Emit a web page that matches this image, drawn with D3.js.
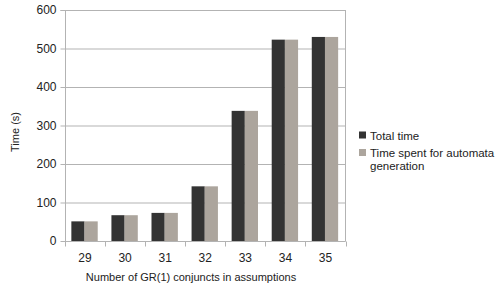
<!DOCTYPE html>
<html><head><meta charset="utf-8">
<script src="https://cdn.jsdelivr.net/npm/d3@7"></script>
<style>body{margin:0;background:#fff}svg{display:block;font-family:"Liberation Sans",Arial,sans-serif}</style>
</head><body><svg id="c" width="498" height="285"></svg>
<script>
const categories = ["29","30","31","32","33","34","35"];
const totalTime = [51,67,73,142,338,523,530];
const automataTime = [51,67,73,142,338,523,530];
const seriesNames = ["Total time","Time spent for automata generation"];
const yTicks = [0,100,200,300,400,500,600];
const colors = ["#333333","#aca59d"];

const svg = d3.select("#c");
const L=65,R=345.5,T=10,B=241;
const x = d3.scaleBand().domain(categories).range([L,R]).paddingInner(0).paddingOuter(0);
const y = d3.scaleLinear().domain([0,600]).range([B,T]);
const grid="#b3b3b3";

svg.append("g").selectAll("line").data(yTicks).join("line")
 .attr("x1",L).attr("x2",R).attr("y1",d=>y(d)+0.5).attr("y2",d=>y(d)+0.5)
 .attr("stroke",grid).attr("stroke-width",1);
svg.append("line").attr("x1",R).attr("x2",R).attr("y1",T).attr("y2",B).attr("stroke",grid);

const sub = d3.scaleBand().domain([0,1]).range([0,x.bandwidth()]).paddingOuter(0.52).paddingInner(0);
const data=[totalTime,automataTime];
data.forEach((vals,si)=>{
 svg.append("g").selectAll("rect").data(vals).join("rect")
  .attr("x",(d,i)=>x(categories[i])+sub(si)-0.5)
  .attr("width",sub.bandwidth())
  .attr("y",d=>y(d)).attr("height",d=>B-y(d))
  .attr("fill",colors[si]);
});

const yAxis = svg.append("g").attr("transform",`translate(${L+0.5},0)`)
 .call(d3.axisLeft(y).tickValues(yTicks).tickSize(5).tickPadding(4));
yAxis.select(".domain").attr("stroke",grid).attr("d",`M-5,${y(600)+0.5}H0V${B+0.5}`);
yAxis.selectAll(".tick line").attr("stroke",grid);
yAxis.selectAll("text").attr("font-size",12).attr("fill","#222").attr("font-family","Liberation Sans, Arial, sans-serif");

const xb = svg.append("g").attr("transform",`translate(0,${B+0.5})`);
xb.append("line").attr("x1",L).attr("x2",R).attr("stroke",grid);
xb.selectAll("line.t").data(categories.map(c=>x(c)).concat([R])).join("line").attr("class","t")
 .attr("x1",d=>Math.round(d)+0.5).attr("x2",d=>Math.round(d)+0.5).attr("y1",0).attr("y2",5).attr("stroke",grid);
xb.selectAll("text").data(categories).join("text")
 .attr("x",d=>x(d)+x.bandwidth()/2).attr("y",20).attr("text-anchor","middle")
 .attr("font-size",12).attr("fill","#222").text(d=>d);

svg.append("text").attr("x",191).attr("y",281).attr("text-anchor","middle")
 .attr("font-size",11).attr("fill","#222").text("Number of GR(1) conjuncts in assumptions");
svg.append("text").attr("transform",`translate(19,132) rotate(-90)`).attr("text-anchor","middle")
 .attr("font-size",11).attr("fill","#222").text("Time (s)");

const fs=11.5;
const lg = svg.append("g");
lg.append("rect").attr("x",359).attr("y",131.5).attr("width",7).attr("height",7).attr("fill",colors[0]);
lg.append("text").attr("x",370).attr("y",139.5).attr("font-size",fs).attr("fill","#222").text(seriesNames[0]);
lg.append("rect").attr("x",359).attr("y",149).attr("width",7).attr("height",7).attr("fill",colors[1]);
lg.append("text").attr("x",370).attr("y",157).attr("font-size",fs).attr("fill","#222").text("Time spent for automata");
lg.append("text").attr("x",370).attr("y",170).attr("font-size",fs).attr("fill","#222").text("generation");
</script></body></html>
